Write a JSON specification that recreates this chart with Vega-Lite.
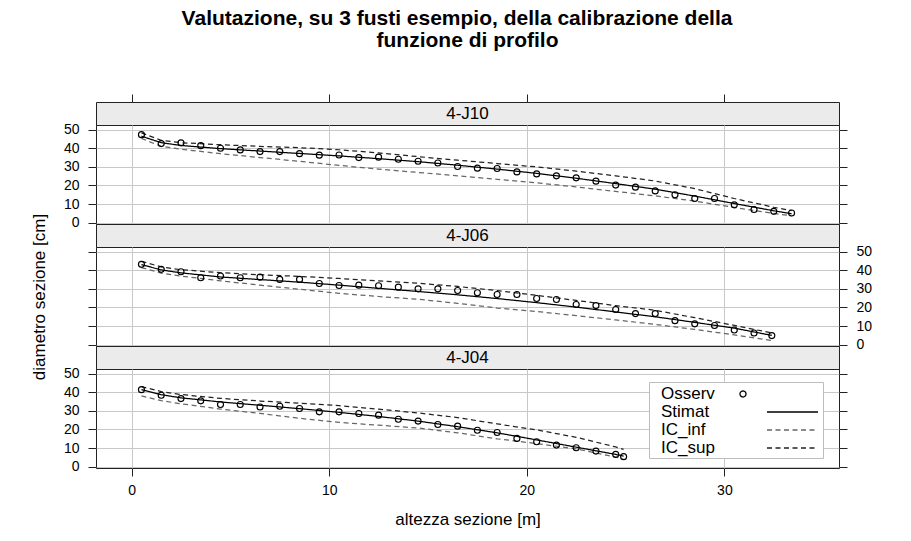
{
  "$schema": "https://vega.github.io/schema/vega-lite/v6.json",
  "padding": {"left": 30, "top": 8, "right": 10, "bottom": 5},
  "background": "white",
  "title": {
    "text": ["Valutazione, su 3 fusti esempio, della calibrazione della", "\u200b\u2002\u2002funzione di profilo"],
    "font": "Liberation Sans", "fontSize": 21, "fontWeight": "bold", "lineHeight": 22,
    "anchor": "middle", "offset": 42, "dx": 6, "color": "black"
  },
  "datasets": {
    "d": [
      {"p":"4-J10","s":"Osserv","x":0.5,"y":47.3},{"p":"4-J10","s":"Osserv","x":1.5,"y":42.5},{"p":"4-J10","s":"Osserv","x":2.5,"y":42.9},{"p":"4-J10","s":"Osserv","x":3.5,"y":41.4},{"p":"4-J10","s":"Osserv","x":4.5,"y":40.0},{"p":"4-J10","s":"Osserv","x":5.5,"y":39.1},{"p":"4-J10","s":"Osserv","x":6.5,"y":38.2},{"p":"4-J10","s":"Osserv","x":7.5,"y":38.2},{"p":"4-J10","s":"Osserv","x":8.5,"y":37.1},{"p":"4-J10","s":"Osserv","x":9.5,"y":36.3},{"p":"4-J10","s":"Osserv","x":10.5,"y":36.4},{"p":"4-J10","s":"Osserv","x":11.5,"y":35.0},{"p":"4-J10","s":"Osserv","x":12.5,"y":35.2},{"p":"4-J10","s":"Osserv","x":13.5,"y":34.1},{"p":"4-J10","s":"Osserv","x":14.5,"y":33.0},{"p":"4-J10","s":"Osserv","x":15.5,"y":32.1},{"p":"4-J10","s":"Osserv","x":16.5,"y":30.2},{"p":"4-J10","s":"Osserv","x":17.5,"y":29.3},{"p":"4-J10","s":"Osserv","x":18.5,"y":29.1},{"p":"4-J10","s":"Osserv","x":19.5,"y":27.3},{"p":"4-J10","s":"Osserv","x":20.5,"y":26.2},{"p":"4-J10","s":"Osserv","x":21.5,"y":25.2},{"p":"4-J10","s":"Osserv","x":22.5,"y":24.1},{"p":"4-J10","s":"Osserv","x":23.5,"y":22.3},{"p":"4-J10","s":"Osserv","x":24.5,"y":20.2},{"p":"4-J10","s":"Osserv","x":25.5,"y":19.1},{"p":"4-J10","s":"Osserv","x":26.5,"y":17.1},{"p":"4-J10","s":"Osserv","x":27.5,"y":15.0},{"p":"4-J10","s":"Osserv","x":28.5,"y":13.0},{"p":"4-J10","s":"Osserv","x":29.5,"y":13.0},{"p":"4-J10","s":"Osserv","x":30.5,"y":9.6},{"p":"4-J10","s":"Osserv","x":31.5,"y":7.1},{"p":"4-J10","s":"Osserv","x":32.5,"y":6.1},{"p":"4-J10","s":"Osserv","x":33.4,"y":5.2},
      {"p":"4-J10","s":"Stimat","x":0.5,"y":46.5},{"p":"4-J10","s":"Stimat","x":1.5,"y":43.0},{"p":"4-J10","s":"Stimat","x":2.5,"y":41.5},{"p":"4-J10","s":"Stimat","x":4.5,"y":39.8},{"p":"4-J10","s":"Stimat","x":6.5,"y":38.5},{"p":"4-J10","s":"Stimat","x":8.5,"y":37.2},{"p":"4-J10","s":"Stimat","x":10.5,"y":35.9},{"p":"4-J10","s":"Stimat","x":12.5,"y":34.4},{"p":"4-J10","s":"Stimat","x":14.5,"y":32.8},{"p":"4-J10","s":"Stimat","x":16.5,"y":30.9},{"p":"4-J10","s":"Stimat","x":18.5,"y":28.8},{"p":"4-J10","s":"Stimat","x":20.5,"y":26.5},{"p":"4-J10","s":"Stimat","x":22.5,"y":23.9},{"p":"4-J10","s":"Stimat","x":24.5,"y":21.0},{"p":"4-J10","s":"Stimat","x":26.5,"y":18.0},{"p":"4-J10","s":"Stimat","x":28.5,"y":14.3},{"p":"4-J10","s":"Stimat","x":30.5,"y":10.3},{"p":"4-J10","s":"Stimat","x":32.5,"y":6.4},{"p":"4-J10","s":"Stimat","x":33.4,"y":4.8},
      {"p":"4-J10","s":"IC_sup","x":0.5,"y":48.3},{"p":"4-J10","s":"IC_sup","x":1.5,"y":44.3},{"p":"4-J10","s":"IC_sup","x":2.5,"y":43.0},{"p":"4-J10","s":"IC_sup","x":4.5,"y":41.9},{"p":"4-J10","s":"IC_sup","x":6.5,"y":41.0},{"p":"4-J10","s":"IC_sup","x":8.5,"y":40.3},{"p":"4-J10","s":"IC_sup","x":10.5,"y":39.2},{"p":"4-J10","s":"IC_sup","x":12.5,"y":37.5},{"p":"4-J10","s":"IC_sup","x":14.5,"y":35.5},{"p":"4-J10","s":"IC_sup","x":16.5,"y":33.6},{"p":"4-J10","s":"IC_sup","x":18.5,"y":31.8},{"p":"4-J10","s":"IC_sup","x":20.5,"y":30.0},{"p":"4-J10","s":"IC_sup","x":22.5,"y":27.7},{"p":"4-J10","s":"IC_sup","x":24.5,"y":25.2},{"p":"4-J10","s":"IC_sup","x":26.5,"y":22.4},{"p":"4-J10","s":"IC_sup","x":28.5,"y":18.3},{"p":"4-J10","s":"IC_sup","x":30.5,"y":13.0},{"p":"4-J10","s":"IC_sup","x":32.5,"y":8.3},{"p":"4-J10","s":"IC_sup","x":33.4,"y":6.5},
      {"p":"4-J10","s":"IC_inf","x":0.5,"y":45.3},{"p":"4-J10","s":"IC_inf","x":1.5,"y":41.0},{"p":"4-J10","s":"IC_inf","x":2.5,"y":39.5},{"p":"4-J10","s":"IC_inf","x":4.5,"y":37.1},{"p":"4-J10","s":"IC_inf","x":6.5,"y":35.0},{"p":"4-J10","s":"IC_inf","x":8.5,"y":33.0},{"p":"4-J10","s":"IC_inf","x":10.5,"y":30.8},{"p":"4-J10","s":"IC_inf","x":12.5,"y":28.8},{"p":"4-J10","s":"IC_inf","x":14.5,"y":27.0},{"p":"4-J10","s":"IC_inf","x":16.5,"y":25.2},{"p":"4-J10","s":"IC_inf","x":18.5,"y":23.3},{"p":"4-J10","s":"IC_inf","x":20.5,"y":21.4},{"p":"4-J10","s":"IC_inf","x":22.5,"y":19.2},{"p":"4-J10","s":"IC_inf","x":24.5,"y":16.8},{"p":"4-J10","s":"IC_inf","x":26.5,"y":14.4},{"p":"4-J10","s":"IC_inf","x":28.5,"y":11.6},{"p":"4-J10","s":"IC_inf","x":30.5,"y":8.2},{"p":"4-J10","s":"IC_inf","x":32.5,"y":5.0},{"p":"4-J10","s":"IC_inf","x":33.4,"y":3.7},

      {"p":"4-J06","s":"Osserv","x":0.5,"y":43.2},{"p":"4-J06","s":"Osserv","x":1.5,"y":40.5},{"p":"4-J06","s":"Osserv","x":2.5,"y":39.2},{"p":"4-J06","s":"Osserv","x":3.5,"y":36.0},{"p":"4-J06","s":"Osserv","x":4.5,"y":36.9},{"p":"4-J06","s":"Osserv","x":5.5,"y":36.0},{"p":"4-J06","s":"Osserv","x":6.5,"y":36.3},{"p":"4-J06","s":"Osserv","x":7.5,"y":35.1},{"p":"4-J06","s":"Osserv","x":8.5,"y":35.1},{"p":"4-J06","s":"Osserv","x":9.5,"y":32.9},{"p":"4-J06","s":"Osserv","x":10.5,"y":31.8},{"p":"4-J06","s":"Osserv","x":11.5,"y":32.0},{"p":"4-J06","s":"Osserv","x":12.5,"y":31.7},{"p":"4-J06","s":"Osserv","x":13.5,"y":30.9},{"p":"4-J06","s":"Osserv","x":14.5,"y":30.0},{"p":"4-J06","s":"Osserv","x":15.5,"y":30.0},{"p":"4-J06","s":"Osserv","x":16.5,"y":29.1},{"p":"4-J06","s":"Osserv","x":17.5,"y":27.9},{"p":"4-J06","s":"Osserv","x":18.5,"y":27.0},{"p":"4-J06","s":"Osserv","x":19.5,"y":27.0},{"p":"4-J06","s":"Osserv","x":20.5,"y":24.8},{"p":"4-J06","s":"Osserv","x":21.5,"y":24.3},{"p":"4-J06","s":"Osserv","x":22.5,"y":21.6},{"p":"4-J06","s":"Osserv","x":23.5,"y":21.0},{"p":"4-J06","s":"Osserv","x":24.5,"y":18.9},{"p":"4-J06","s":"Osserv","x":25.5,"y":16.7},{"p":"4-J06","s":"Osserv","x":26.5,"y":16.7},{"p":"4-J06","s":"Osserv","x":27.5,"y":12.9},{"p":"4-J06","s":"Osserv","x":28.5,"y":11.2},{"p":"4-J06","s":"Osserv","x":29.5,"y":10.3},{"p":"4-J06","s":"Osserv","x":30.5,"y":7.9},{"p":"4-J06","s":"Osserv","x":31.5,"y":6.3},{"p":"4-J06","s":"Osserv","x":32.4,"y":4.9},
      {"p":"4-J06","s":"Stimat","x":0.5,"y":43.0},{"p":"4-J06","s":"Stimat","x":1.5,"y":40.2},{"p":"4-J06","s":"Stimat","x":2.5,"y":38.6},{"p":"4-J06","s":"Stimat","x":4.5,"y":36.4},{"p":"4-J06","s":"Stimat","x":6.5,"y":35.0},{"p":"4-J06","s":"Stimat","x":8.5,"y":33.6},{"p":"4-J06","s":"Stimat","x":10.5,"y":32.0},{"p":"4-J06","s":"Stimat","x":12.5,"y":30.3},{"p":"4-J06","s":"Stimat","x":14.5,"y":28.6},{"p":"4-J06","s":"Stimat","x":16.5,"y":26.8},{"p":"4-J06","s":"Stimat","x":18.5,"y":24.8},{"p":"4-J06","s":"Stimat","x":20.5,"y":22.6},{"p":"4-J06","s":"Stimat","x":22.5,"y":20.2},{"p":"4-J06","s":"Stimat","x":24.5,"y":17.6},{"p":"4-J06","s":"Stimat","x":26.5,"y":15.0},{"p":"4-J06","s":"Stimat","x":28.5,"y":12.0},{"p":"4-J06","s":"Stimat","x":30.5,"y":8.9},{"p":"4-J06","s":"Stimat","x":32.4,"y":5.0},
      {"p":"4-J06","s":"IC_sup","x":0.5,"y":44.8},{"p":"4-J06","s":"IC_sup","x":1.5,"y":41.8},{"p":"4-J06","s":"IC_sup","x":2.5,"y":40.3},{"p":"4-J06","s":"IC_sup","x":4.5,"y":38.7},{"p":"4-J06","s":"IC_sup","x":6.5,"y":37.6},{"p":"4-J06","s":"IC_sup","x":8.5,"y":36.7},{"p":"4-J06","s":"IC_sup","x":10.5,"y":35.6},{"p":"4-J06","s":"IC_sup","x":12.5,"y":34.3},{"p":"4-J06","s":"IC_sup","x":14.5,"y":33.0},{"p":"4-J06","s":"IC_sup","x":16.5,"y":31.3},{"p":"4-J06","s":"IC_sup","x":18.5,"y":29.1},{"p":"4-J06","s":"IC_sup","x":20.5,"y":26.5},{"p":"4-J06","s":"IC_sup","x":22.5,"y":23.8},{"p":"4-J06","s":"IC_sup","x":24.5,"y":21.0},{"p":"4-J06","s":"IC_sup","x":26.5,"y":18.5},{"p":"4-J06","s":"IC_sup","x":28.5,"y":14.5},{"p":"4-J06","s":"IC_sup","x":30.5,"y":10.4},{"p":"4-J06","s":"IC_sup","x":32.4,"y":6.3},
      {"p":"4-J06","s":"IC_inf","x":0.5,"y":41.4},{"p":"4-J06","s":"IC_inf","x":1.5,"y":38.5},{"p":"4-J06","s":"IC_inf","x":2.5,"y":36.9},{"p":"4-J06","s":"IC_inf","x":4.5,"y":34.3},{"p":"4-J06","s":"IC_inf","x":6.5,"y":32.0},{"p":"4-J06","s":"IC_inf","x":8.5,"y":29.8},{"p":"4-J06","s":"IC_inf","x":10.5,"y":27.6},{"p":"4-J06","s":"IC_inf","x":12.5,"y":25.9},{"p":"4-J06","s":"IC_inf","x":14.5,"y":24.4},{"p":"4-J06","s":"IC_inf","x":16.5,"y":22.2},{"p":"4-J06","s":"IC_inf","x":18.5,"y":19.7},{"p":"4-J06","s":"IC_inf","x":20.5,"y":17.8},{"p":"4-J06","s":"IC_inf","x":22.5,"y":15.6},{"p":"4-J06","s":"IC_inf","x":24.5,"y":13.3},{"p":"4-J06","s":"IC_inf","x":26.5,"y":10.9},{"p":"4-J06","s":"IC_inf","x":28.5,"y":8.2},{"p":"4-J06","s":"IC_inf","x":30.5,"y":5.3},{"p":"4-J06","s":"IC_inf","x":32.4,"y":2.2},

      {"p":"4-J04","s":"Osserv","x":0.5,"y":41.4},{"p":"4-J04","s":"Osserv","x":1.5,"y":38.4},{"p":"4-J04","s":"Osserv","x":2.5,"y":36.6},{"p":"4-J04","s":"Osserv","x":3.5,"y":35.4},{"p":"4-J04","s":"Osserv","x":4.5,"y":33.4},{"p":"4-J04","s":"Osserv","x":5.5,"y":33.4},{"p":"4-J04","s":"Osserv","x":6.5,"y":32.1},{"p":"4-J04","s":"Osserv","x":7.5,"y":32.5},{"p":"4-J04","s":"Osserv","x":8.5,"y":31.3},{"p":"4-J04","s":"Osserv","x":9.5,"y":29.5},{"p":"4-J04","s":"Osserv","x":10.5,"y":29.5},{"p":"4-J04","s":"Osserv","x":11.5,"y":28.6},{"p":"4-J04","s":"Osserv","x":12.5,"y":27.7},{"p":"4-J04","s":"Osserv","x":13.5,"y":25.5},{"p":"4-J04","s":"Osserv","x":14.5,"y":24.5},{"p":"4-J04","s":"Osserv","x":15.5,"y":22.7},{"p":"4-J04","s":"Osserv","x":16.5,"y":21.8},{"p":"4-J04","s":"Osserv","x":17.5,"y":19.6},{"p":"4-J04","s":"Osserv","x":18.5,"y":18.4},{"p":"4-J04","s":"Osserv","x":19.5,"y":15.2},{"p":"4-J04","s":"Osserv","x":20.5,"y":13.4},{"p":"4-J04","s":"Osserv","x":21.5,"y":11.6},{"p":"4-J04","s":"Osserv","x":22.5,"y":10.2},{"p":"4-J04","s":"Osserv","x":23.5,"y":8.4},{"p":"4-J04","s":"Osserv","x":24.5,"y":6.6},{"p":"4-J04","s":"Osserv","x":24.9,"y":5.4},
      {"p":"4-J04","s":"Stimat","x":0.5,"y":41.4},{"p":"4-J04","s":"Stimat","x":1.5,"y":38.7},{"p":"4-J04","s":"Stimat","x":2.5,"y":37.0},{"p":"4-J04","s":"Stimat","x":4.5,"y":34.8},{"p":"4-J04","s":"Stimat","x":6.5,"y":33.0},{"p":"4-J04","s":"Stimat","x":8.5,"y":31.2},{"p":"4-J04","s":"Stimat","x":10.5,"y":29.2},{"p":"4-J04","s":"Stimat","x":12.5,"y":27.0},{"p":"4-J04","s":"Stimat","x":14.5,"y":24.5},{"p":"4-J04","s":"Stimat","x":16.5,"y":21.5},{"p":"4-J04","s":"Stimat","x":18.5,"y":18.2},{"p":"4-J04","s":"Stimat","x":20.5,"y":14.4},{"p":"4-J04","s":"Stimat","x":22.5,"y":10.5},{"p":"4-J04","s":"Stimat","x":24.5,"y":6.6},{"p":"4-J04","s":"Stimat","x":24.9,"y":5.7},
      {"p":"4-J04","s":"IC_sup","x":0.5,"y":43.0},{"p":"4-J04","s":"IC_sup","x":1.5,"y":40.4},{"p":"4-J04","s":"IC_sup","x":2.5,"y":38.8},{"p":"4-J04","s":"IC_sup","x":4.5,"y":36.7},{"p":"4-J04","s":"IC_sup","x":6.5,"y":35.3},{"p":"4-J04","s":"IC_sup","x":8.5,"y":34.1},{"p":"4-J04","s":"IC_sup","x":10.5,"y":32.8},{"p":"4-J04","s":"IC_sup","x":12.5,"y":30.9},{"p":"4-J04","s":"IC_sup","x":14.5,"y":28.9},{"p":"4-J04","s":"IC_sup","x":16.5,"y":26.4},{"p":"4-J04","s":"IC_sup","x":18.5,"y":23.0},{"p":"4-J04","s":"IC_sup","x":20.5,"y":19.8},{"p":"4-J04","s":"IC_sup","x":22.5,"y":15.8},{"p":"4-J04","s":"IC_sup","x":24.5,"y":10.6},{"p":"4-J04","s":"IC_sup","x":24.9,"y":9.3},
      {"p":"4-J04","s":"IC_inf","x":0.5,"y":38.0},{"p":"4-J04","s":"IC_inf","x":1.5,"y":35.5},{"p":"4-J04","s":"IC_inf","x":2.5,"y":33.8},{"p":"4-J04","s":"IC_inf","x":4.5,"y":31.0},{"p":"4-J04","s":"IC_inf","x":6.5,"y":28.6},{"p":"4-J04","s":"IC_inf","x":8.5,"y":26.0},{"p":"4-J04","s":"IC_inf","x":10.5,"y":23.8},{"p":"4-J04","s":"IC_inf","x":12.5,"y":22.3},{"p":"4-J04","s":"IC_inf","x":14.5,"y":20.8},{"p":"4-J04","s":"IC_inf","x":16.5,"y":18.2},{"p":"4-J04","s":"IC_inf","x":18.5,"y":15.0},{"p":"4-J04","s":"IC_inf","x":20.5,"y":12.4},{"p":"4-J04","s":"IC_inf","x":22.5,"y":9.6},{"p":"4-J04","s":"IC_inf","x":24.5,"y":5.2},{"p":"4-J04","s":"IC_inf","x":24.9,"y":3.9}
    ]
  },
  "spacing": 0,
  "bounds": "flush",
  "vconcat": [
    {
      "width": 743, "height": 23,
      "view": {"fill": "#ebebeb", "stroke": "#222"},
      "data": {"values": [{"lab": "4-J10"}]},
      "mark": {"type": "text", "fontSize": 17, "font": "Liberation Sans", "color": "black"},
      "encoding": {
        "x": {"datum": 17, "type": "quantitative", "scale": {"domain": [-1.8, 35.8], "nice": false, "zero": false},
              "axis": {"orient": "top", "values": [0, 10, 20, 30], "grid": false, "labels": false, "ticks": true, "title": null}},
        "text": {"field": "lab"}
      }
    },
    {
      "width": 743, "height": 99,
      "data": {"name": "d"},
      "transform": [{"filter": "datum.p === '4-J10'"}],
      "encoding": {
        "x": {"field": "x", "type": "quantitative", "scale": {"domain": [-1.8, 35.8], "nice": false, "zero": false},
              "axis": {"orient": "bottom", "values": [0, 10, 20, 30], "grid": true, "ticks": false, "labels": false, "title": null}}
      },
      "layer": [
        {
          "mark": {"type": "line", "strokeWidth": 1.25},
          "transform": [{"filter": "datum.s !== 'Osserv'"}],
          "encoding": {
            "y": {"field": "y", "type": "quantitative", "scale": {"domain": [-0.7, 52.5], "nice": false, "zero": false},
                  "axis": {"orient": "left", "values": [0, 10, 20, 30, 40, 50], "grid": true, "title": null, "labelPadding": 9}},
            "color": {"field": "s", "type": "nominal", "scale": {"domain": ["Osserv", "Stimat", "IC_inf", "IC_sup"], "range": ["#000000", "#000000", "#666666", "#222222"]}, "legend": null},
            "strokeDash": {"field": "s", "type": "nominal", "scale": {"domain": ["Osserv", "Stimat", "IC_inf", "IC_sup"], "range": [[1, 0], [1, 0], [5, 3.5], [5, 3.5]]}, "legend": null}
          }
        },
        {
          "mark": {"type": "point", "filled": false, "size": 36, "strokeWidth": 1.15, "shape": "circle", "opacity": 1},
          "transform": [{"filter": "datum.s === 'Osserv'"}],
          "encoding": {
            "y": {"field": "y", "type": "quantitative",
                  "axis": {"orient": "right", "values": [0, 10, 20, 30, 40, 50], "grid": false, "labels": false, "title": null}},
            "color": {"field": "s", "type": "nominal", "legend": null}
          }
        }
      ],
      "resolve": {"axis": {"y": "independent"}}
    },
    {
      "width": 743, "height": 23,
      "view": {"fill": "#ebebeb", "stroke": "#222"},
      "data": {"values": [{"lab": "4-J06"}]},
      "mark": {"type": "text", "fontSize": 17, "font": "Liberation Sans", "color": "black"},
      "encoding": {
        "x": {"datum": 17, "type": "quantitative", "scale": {"domain": [-1.8, 35.8], "nice": false, "zero": false}, "axis": null},
        "text": {"field": "lab"}
      }
    },
    {
      "width": 743, "height": 99,
      "data": {"name": "d"},
      "transform": [{"filter": "datum.p === '4-J06'"}],
      "encoding": {
        "x": {"field": "x", "type": "quantitative", "scale": {"domain": [-1.8, 35.8], "nice": false, "zero": false},
              "axis": {"orient": "bottom", "values": [0, 10, 20, 30], "grid": true, "ticks": false, "labels": false, "title": null}}
      },
      "layer": [
        {
          "mark": {"type": "line", "strokeWidth": 1.25},
          "transform": [{"filter": "datum.s !== 'Osserv'"}],
          "encoding": {
            "y": {"field": "y", "type": "quantitative", "scale": {"domain": [-0.7, 52.5], "nice": false, "zero": false},
                  "axis": {"orient": "left", "values": [0, 10, 20, 30, 40, 50], "grid": true, "labels": false, "title": "diametro sezione [cm]", "titlePadding": 39}},
            "color": {"field": "s", "type": "nominal", "scale": {"domain": ["Osserv", "Stimat", "IC_inf", "IC_sup"], "range": ["#000000", "#000000", "#666666", "#222222"]}, "legend": null},
            "strokeDash": {"field": "s", "type": "nominal", "scale": {"domain": ["Osserv", "Stimat", "IC_inf", "IC_sup"], "range": [[1, 0], [1, 0], [5, 3.5], [5, 3.5]]}, "legend": null}
          }
        },
        {
          "mark": {"type": "point", "filled": false, "size": 36, "strokeWidth": 1.15, "shape": "circle", "opacity": 1},
          "transform": [{"filter": "datum.s === 'Osserv'"}],
          "encoding": {
            "y": {"field": "y", "type": "quantitative",
                  "axis": {"orient": "right", "values": [0, 10, 20, 30, 40, 50], "grid": false, "labels": true, "labelPadding": 9, "title": null}},
            "color": {"field": "s", "type": "nominal", "legend": null}
          }
        }
      ],
      "resolve": {"axis": {"y": "independent"}}
    },
    {
      "width": 743, "height": 23,
      "view": {"fill": "#ebebeb", "stroke": "#222"},
      "data": {"values": [{"lab": "4-J04"}]},
      "mark": {"type": "text", "fontSize": 17, "font": "Liberation Sans", "color": "black"},
      "encoding": {
        "x": {"datum": 17, "type": "quantitative", "scale": {"domain": [-1.8, 35.8], "nice": false, "zero": false}, "axis": null},
        "text": {"field": "lab"}
      }
    },
    {
      "width": 743, "height": 99,
      "data": {"name": "d"},
      "transform": [{"filter": "datum.p === '4-J04'"}],
      "encoding": {
        "x": {"field": "x", "type": "quantitative", "scale": {"domain": [-1.8, 35.8], "nice": false, "zero": false},
              "axis": {"orient": "bottom", "values": [0, 10, 20, 30], "grid": true, "ticks": true, "labels": true, "labelPadding": 7, "title": "altezza sezione [m]", "titlePadding": 14}}
      },
      "layer": [
        {
          "mark": {"type": "line", "strokeWidth": 1.25},
          "transform": [{"filter": "datum.s !== 'Osserv'"}],
          "encoding": {
            "y": {"field": "y", "type": "quantitative", "scale": {"domain": [-0.7, 52.5], "nice": false, "zero": false},
                  "axis": {"orient": "left", "values": [0, 10, 20, 30, 40, 50], "grid": true, "title": null, "labelPadding": 9}},
            "color": {"field": "s", "type": "nominal", "scale": {"domain": ["Osserv", "Stimat", "IC_inf", "IC_sup"], "range": ["#000000", "#000000", "#666666", "#222222"]},
                      "legend": {"orient": "none", "legendX": 553, "legendY": 13, "title": null, "padding": 2, "fillColor": "white", "strokeColor": "#bdbdbd",
                                 "labelFontSize": 17, "labelFont": "Liberation Sans", "labelColor": "black", "labelOffset": -10, "symbolSize": 324,
                                 "rowPadding": 0, "symbolStrokeWidth": 1.3, "symbolOpacity": 1}},
            "strokeDash": {"field": "s", "type": "nominal", "scale": {"domain": ["Osserv", "Stimat", "IC_inf", "IC_sup"], "range": [[1, 0], [1, 0], [5, 3.5], [5, 3.5]]},
                      "legend": {"orient": "none", "legendX": 553, "legendY": 13, "title": null, "padding": 2, "fillColor": "white", "strokeColor": "#bdbdbd",
                                 "labelFontSize": 17, "labelFont": "Liberation Sans", "labelColor": "black", "labelOffset": -10, "symbolSize": 324,
                                 "rowPadding": 0, "symbolStrokeWidth": 1.3, "symbolOpacity": 1}}
          }
        },
        {
          "mark": {"type": "point", "filled": false, "size": 36, "strokeWidth": 1.15, "shape": "circle", "opacity": 1},
          "transform": [{"filter": "datum.s === 'Osserv'"}],
          "encoding": {
            "y": {"field": "y", "type": "quantitative",
                  "axis": {"orient": "right", "values": [0, 10, 20, 30, 40, 50], "grid": false, "labels": false, "title": null}},
            "color": {"field": "s", "type": "nominal",
                      "legend": {"orient": "none", "legendX": 553, "legendY": 13, "title": null, "padding": 2, "fillColor": "white", "strokeColor": "#bdbdbd",
                                 "labelFontSize": 17, "labelFont": "Liberation Sans", "labelColor": "black", "labelOffset": -10, "symbolSize": 324,
                                 "rowPadding": 0, "symbolStrokeWidth": 1.3, "symbolOpacity": 1}}
          }
        },
        {
          "mark": {"type": "point", "filled": false, "opacity": 0},
          "transform": [{"filter": "datum.s === 'Osserv'"}],
          "encoding": {
            "y": {"field": "y", "type": "quantitative", "axis": null},
            "shape": {"field": "s", "type": "nominal",
                      "scale": {"domain": ["Osserv", "Stimat", "IC_inf", "IC_sup"],
                                "range": ["M9.444,0A0.333,0.333,0,1,1,8.778,0A0.333,0.333,0,1,1,9.444,0", "M11.778,0H17.444", "M11.778,0H17.444", "M11.778,0H17.444"]},
                      "legend": {"orient": "none", "legendX": 553, "legendY": 13, "title": null, "padding": 2, "fillColor": "white", "strokeColor": "#bdbdbd",
                                 "labelFontSize": 17, "labelFont": "Liberation Sans", "labelColor": "black", "labelOffset": -10, "symbolSize": 324,
                                 "rowPadding": 0, "symbolStrokeWidth": 1.3, "symbolOpacity": 1}}
          }
        }
      ],
      "resolve": {"axis": {"y": "independent"}}
    }
  ],
  "resolve": {"legend": {"color": "independent", "strokeDash": "independent", "shape": "independent"}},
  "config": {
    "font": "Liberation Sans",
    "view": {"stroke": "#222", "strokeWidth": 1},
    "axis": {
      "labelFont": "Liberation Sans", "labelFontSize": 14, "labelColor": "#000",
      "titleFont": "Liberation Sans", "titleFontSize": 17, "titleFontWeight": "normal", "titleColor": "#000",
      "tickColor": "#222", "tickSize": 8, "tickWidth": 1,
      "gridColor": "#c8c8c8", "gridWidth": 1, "domain": false,
      "labelFlush": false, "labelOverlap": false, "minExtent": 0
    }
  }
}
